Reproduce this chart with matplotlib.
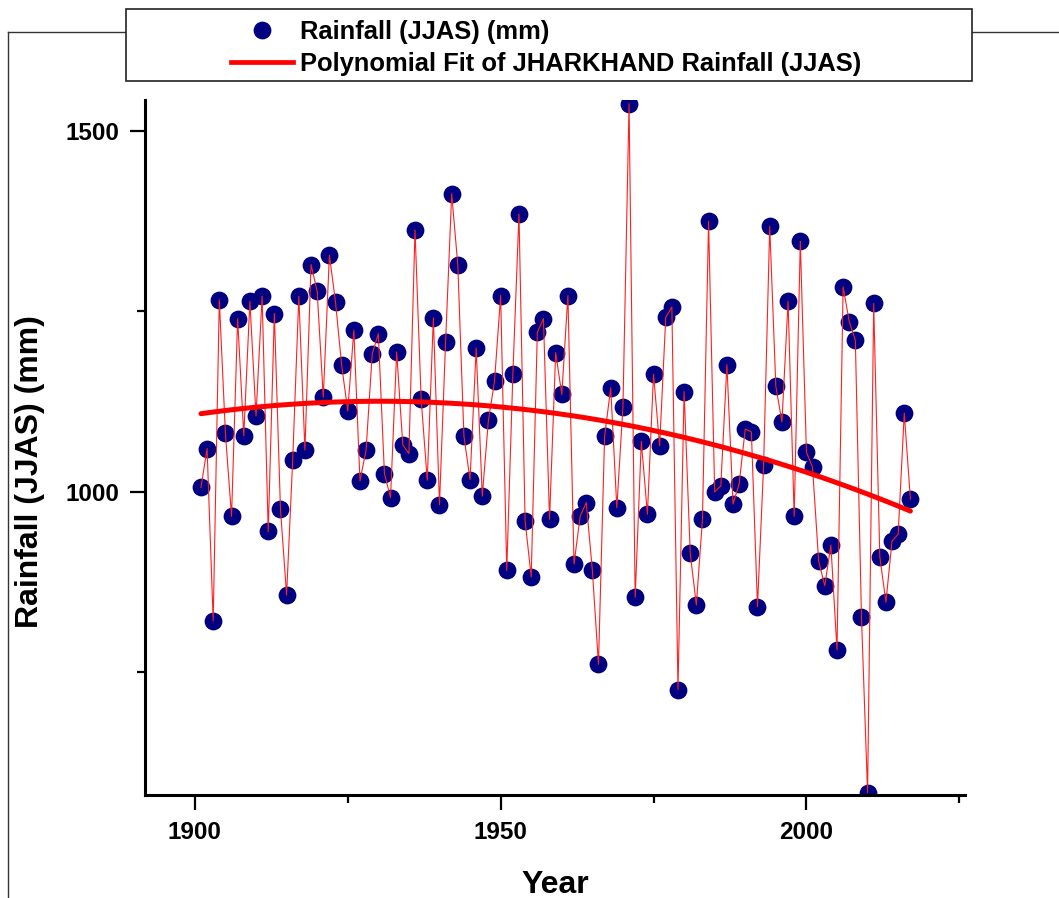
import matplotlib
matplotlib.use("Agg")
import matplotlib.pyplot as plt
from matplotlib.lines import Line2D
from matplotlib.patches import Rectangle
import numpy as np

plt.rcParams["font.family"] = ["Liberation Sans", "DejaVu Sans"]
plt.rcParams["font.weight"] = "bold"

# JJAS rainfall over Jharkhand, 1901-2017 (mm)
years = np.arange(1901, 2018)
rainfall = [
    1006, 1060, 821, 1266, 1081, 966, 1240, 1078, 1264, 1105,   # 1901-1910
    1271, 945, 1247, 976, 857, 1044, 1271, 1058, 1315, 1278,    # 1911-1920
    1131, 1328, 1263, 1176, 1112, 1224, 1015, 1058, 1191, 1219, # 1921-1930
    1025, 992, 1194, 1065, 1053, 1363, 1129, 1016, 1241, 982,   # 1931-1940
    1208, 1413, 1314, 1077, 1017, 1199, 994, 1099, 1153, 1272,  # 1941-1950
    891, 1163, 1385, 960, 882, 1221, 1240, 962, 1193, 1135,     # 1951-1960
    1272, 900, 966, 985, 891, 761, 1077, 1144, 978, 1118,       # 1961-1970
    1538, 854, 1070, 969, 1163, 1064, 1242, 1256, 726, 1139,    # 1971-1980
    915, 843, 962, 1375, 1000, 1008, 1176, 983, 1011, 1087,     # 1981-1990
    1083, 841, 1037, 1368, 1146, 1097, 1264, 966, 1347, 1055,   # 1991-2000
    1034, 904, 870, 926, 781, 1284, 1236, 1210, 827, 583,       # 2001-2010
    1261, 910, 847, 932, 941, 1109, 990,                        # 2011-2017
]
rainfall = np.array(rainfall, dtype=float)

x_major = [1900, 1950, 2000]
x_minor = [1925, 1975, 2025]
y_major = [1000, 1500]
y_minor = [750, 1250]

# quadratic polynomial fit of the series
coef = np.polyfit(years, rainfall, 2)
fit = np.polyval(coef, years)

W, H = 1059, 898
fig = plt.figure(figsize=(W / 100, H / 100), dpi=100)
ax = fig.add_axes([145 / W, 1 - 795 / H, 820 / W, 695 / H])

ax.plot(years, rainfall, linestyle="none", marker="o", markersize=11.8,
        color="#000080", zorder=2)
ax.plot(years, rainfall, color="#ff2020", linewidth=0.8, zorder=3)
ax.plot(years, fit, color="#ff0000", linewidth=3.6, zorder=4,
        solid_capstyle="round")

ax.set_xlim(1891.85, 2025.93)
ax.set_ylim(579.8, 1543)

for side in ["top", "right"]:
    ax.spines[side].set_visible(False)
for side in ["left", "bottom"]:
    ax.spines[side].set_linewidth(2.2)

ax.set_xticks(x_major)
ax.set_xticks(x_minor, minor=True)
ax.set_yticks(y_major)
ax.set_yticks(y_minor, minor=True)
ax.tick_params(which="major", direction="out", length=10.8, width=1.6,
               labelsize=17.5, pad=8)
ax.tick_params(which="minor", direction="out", length=5.8, width=1.6)

ax.set_xlabel("Year", fontsize=23, fontweight="bold")
ax.set_ylabel("Rainfall (JJAS) (mm)", fontsize=23, fontweight="bold")
ax.xaxis.set_label_coords(0.5, -0.108)
ax.yaxis.set_label_coords(-0.122, 0.466)

# outer layer frame
fig.add_artist(Line2D([8 / W, 8 / W], [0, 1 - 32 / H], color="#333333",
                      linewidth=1, transform=fig.transFigure, zorder=1))
fig.add_artist(Line2D([8 / W, 1], [1 - 32 / H, 1 - 32 / H], color="#333333",
                      linewidth=1, transform=fig.transFigure, zorder=1))

# legend box
fig.add_artist(Rectangle((126 / W, 1 - 81 / H), 846 / W, 72 / H,
                         transform=fig.transFigure, facecolor="white",
                         edgecolor="#222222", linewidth=1.2, zorder=2))
handles = [
    Line2D([], [], linestyle="none", marker="o", markersize=11.8, color="#000080"),
    Line2D([], [], color="#ff0000", linewidth=3.4),
]
labels = ["Rainfall (JJAS) (mm)", "Polynomial Fit of JHARKHAND Rainfall (JJAS)"]
leg = fig.legend(handles, labels, loc="center", bbox_to_anchor=(546 / W, 1 - 48 / H),
                 frameon=False, fontsize=18.4, handlelength=2.45, handletextpad=0.27,
                 labelspacing=0.33, borderpad=0)
leg.set_zorder(5)

fig.savefig("out.png", dpi=100, facecolor="white")
